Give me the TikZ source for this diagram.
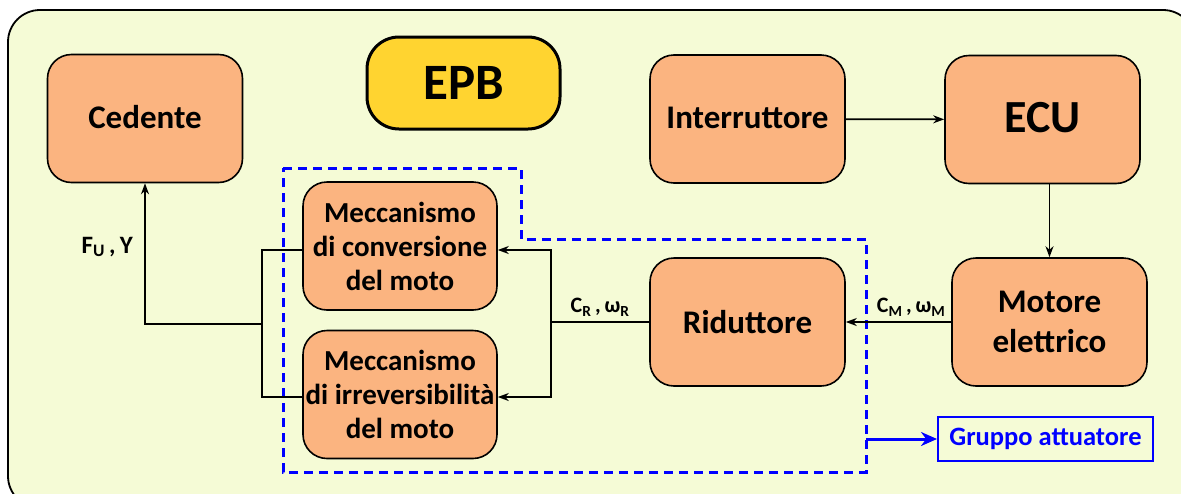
\documentclass[tikz,border=0pt]{standalone}
\usepackage{fontspec}
\setmainfont{Carlito}
\usetikzlibrary{arrows.meta,calc}
\definecolor{bg}{RGB}{245,251,214}
\definecolor{boxfill}{RGB}{251,180,128}
\definecolor{epbfill}{RGB}{255,212,48}
\definecolor{myblue}{RGB}{0,0,255}
\tikzset{
  blk/.style={draw=black, line width=1.6pt, fill=boxfill, rounded corners=24pt,
    minimum width=195pt, minimum height=128pt, align=center, inner sep=0pt,
    font=\fontsize{33}{36}\selectfont\bfseries},
  mech/.style={blk, minimum width=194pt, font=\fontsize{29}{34}\selectfont\bfseries},
  conn/.style={draw=black, line width=1.8pt},
  arr/.style={conn, -{Stealth[length=11pt,width=8pt]}},
  lbl/.style={font=\fontsize{22}{24}\selectfont\bfseries, inner sep=0pt},
  dashbox/.style={draw=myblue, line width=3pt, dash pattern=on 9pt off 6pt},
  bluearr/.style={draw=myblue, line width=3pt, -{Stealth[length=16pt,width=14pt]}},
}
\begin{document}
\begin{tikzpicture}[x=1pt,y=-1pt]
\useasboundingbox (0,0) rectangle (1181,493);
\fill[white] (0,0) rectangle (1181,493);
\draw[fill=bg, line width=1.8pt, rounded corners=32pt] (8,10) rectangle (1195,508);

\node[blk] (ced) at (145,118.5) {\raisebox{3pt}{Cedente}};
\node[draw=black, line width=3pt, fill=epbfill, rounded corners=32pt, minimum width=193pt, minimum height=92pt, inner sep=0pt, font=\fontsize{51}{55}\selectfont\bfseries] (epb) at (463.5,83) {EPB};
\node[blk] (intr) at (747.5,119) {\raisebox{3pt}{Interruttore}};
\node[blk, font=\fontsize{46}{50}\selectfont\bfseries] (ecu) at (1042.5,119.5) {\raisebox{4pt}{ECU}};
\node[blk, font=\fontsize{33}{40}\selectfont\bfseries] (mot) at (1049.5,322) {Motore\\elettrico};
\node[blk] (rid) at (747.5,322) {Riduttore};
\node[mech] (conv) at (400,246) {Meccanismo\\di conversione\\del moto};
\node[mech] (irr) at (400,394.5) {Meccanismo\\di irreversibilità\\del moto};

\draw[dashbox] (283,168) -- (521,168) -- (521,239) -- (866,239) -- (866,472) -- (283,472) -- cycle;

\node[draw=myblue, line width=2pt, fill=bg, minimum width=215pt, minimum height=44pt, inner sep=0pt, text=myblue, font=\fontsize{26.5}{28}\selectfont\bfseries] (grp) at (1045.5,439) {Gruppo attuatore};
\coordinate (ga) at (866,439);
\draw[bluearr] (ga) -- (grp.west);

\draw[arr] (intr) -- (ecu);
\draw[arr] (mot.north |- ecu.south) -- (mot.north);
\draw[arr] (mot.west) -- (rid.east) node[lbl, pos=0.38, above=5pt] {C\textsubscript{M}\,,\,ω\textsubscript{M}};

\coordinate (jr) at (551,322);
\draw[conn] (rid.west) -- (jr) node[lbl, pos=0.5, above=5pt] {C\textsubscript{R}\,,\,ω\textsubscript{R}};
\draw[arr] (jr) |- ($(conv.east)+(0,4)$);
\draw[arr] (jr) |- ($(irr.east)+(0,2.5)$);

\coordinate (jl) at (262,324);
\draw[conn] ($(conv.west)+(0,4)$) -| (jl);
\draw[conn] ($(irr.west)+(0,2.5)$) -| (jl);
\draw[arr] (jl) -| (ced.south);
\node[lbl, anchor=east, font=\fontsize{25}{28}\selectfont\bfseries] (fu) at (133,247) {F\textsubscript{U}\,,\,Y};
\end{tikzpicture}
\end{document}
